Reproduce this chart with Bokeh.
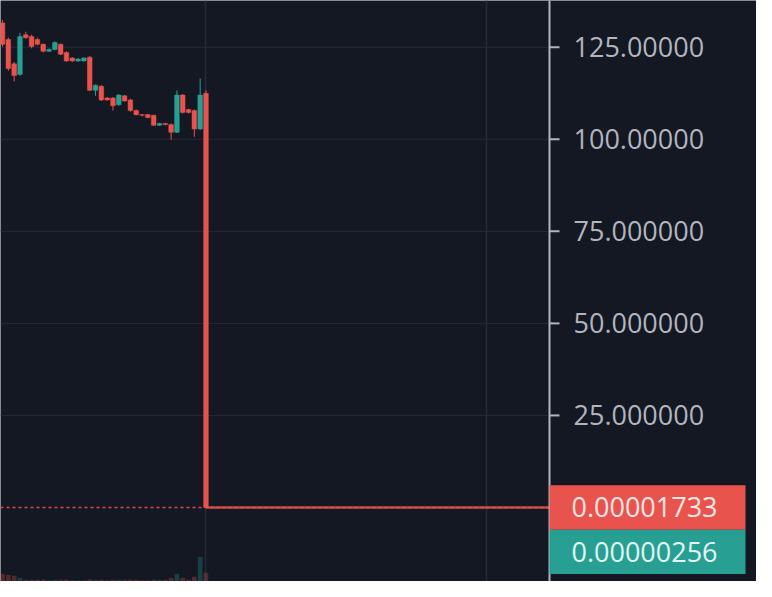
from bokeh.plotting import figure
from bokeh.models import ColumnDataSource, FixedTicker, Range1d
from bokeh.core.properties import value
from bokeh.embed import file_html
from bokeh.resources import INLINE

# ---------------- data ----------------
idx = list(range(36))
opens = [131.6, 127.1, 120.5, 117.6, 128.4, 127.9, 127.1, 125.8, 123.9, 124.4,
         125.8, 123.6, 122.1, 121.3, 121.3, 122.3, 113.3, 114.4, 111.2, 111.2,
         109.4, 111.8, 110.7, 107.8, 106.7, 106.7, 106.5, 103.8, 104.3, 104.0,
         101.9, 112.0, 108.1, 107.8, 102.8, 112.5]
closes = [125.8, 119.2, 117.3, 127.9, 127.6, 125.2, 125.8, 123.9, 124.4, 126.3,
          123.1, 121.3, 121.3, 121.8, 122.1, 113.3, 114.7, 110.7, 110.7, 109.1,
          112.0, 110.4, 107.8, 106.7, 106.5, 105.9, 103.8, 104.3, 104.0, 101.9,
          112.0, 107.3, 107.3, 102.8, 112.0, 0.00001733]
highs = [132.4, 127.6, 121.0, 128.9, 129.2, 128.4, 127.6, 126.0, 124.7, 126.6,
         126.0, 123.9, 122.3, 122.1, 122.3, 122.6, 114.9, 114.7, 111.5, 111.5,
         112.3, 112.0, 111.0, 108.1, 106.9, 106.9, 106.7, 104.5, 104.5, 104.3,
         113.3, 112.3, 108.3, 108.1, 116.5, 113.3]
lows = [125.2, 118.6, 115.7, 117.3, 127.3, 124.7, 125.5, 123.6, 123.7, 124.2,
        122.9, 121.0, 121.0, 121.0, 121.1, 113.1, 111.8, 110.4, 110.5, 107.8,
        109.1, 110.2, 107.5, 106.5, 106.2, 105.7, 103.6, 103.6, 103.8, 99.9,
        101.7, 107.0, 107.0, 100.7, 102.5, 0.00000256]
volumes = [1.3, 1.1, 1.0, 0.6, 0.3, 0.3, 0.3, 0.3, 0.2, 0.3,
           0.3, 0.3, 0.2, 0.2, 0.2, 0.4, 0.3, 0.3, 0.2, 0.3,
           0.3, 0.3, 0.3, 0.3, 0.2, 0.2, 0.3, 0.3, 0.3, 0.6,
           1.3, 0.6, 0.3, 0.8, 4.2, 1.5]
last_price = 0.00001733
tick_values = [25, 50, 75, 100, 125]
tick_labels = ["25.000000", "50.000000", "75.000000", "100.00000", "125.00000"]
tag_labels = ["0.00001733", "0.00000256"]
vgrid_at = [35, 83.3]

# ---------------- layout / style ----------------
W, H = 756, 581
AXIS_PX = 549            # where the price scale starts (px from left)
X0, X_AT_AXIS = -0.35, 94.1
Y0, Y1 = -20.1, 137.7
k = (X_AT_AXIS - X0) / AXIS_PX          # data units per px (x)
ppu = H / (Y1 - Y0)                     # px per data unit (y)
axis_x = X_AT_AXIS
x_end = X0 + W * k

BG = "#141823"
GRID = "#252a36"
RED = "#e8534e"
TEAL = "#27a093"
TXT = "#b2b5be"
FONT = "Open Sans"

colors = [TEAL if c >= o else RED for o, c in zip(opens, closes)]
src = ColumnDataSource(dict(
    x=idx, open=opens, close=closes, high=highs, low=lows,
    top=[max(o, c) for o, c in zip(opens, closes)],
    bottom=[min(o, c) for o, c in zip(opens, closes)],
    volume=volumes, color=colors))

p = figure(width=W, height=H, output_backend="svg", toolbar_location=None,
           x_range=Range1d(X0, x_end), y_range=Range1d(Y0, Y1),
           x_axis_location=None, y_axis_location=None,
           min_border=0, background_fill_color=BG, border_fill_color=BG,
           outline_line_color=None)
p.extra_y_ranges = {"vol": Range1d(0, 100)}

# grids (stop at the price scale)
p.xgrid.ticker = FixedTicker(ticks=vgrid_at)
p.xgrid.grid_line_color = GRID
p.xgrid.grid_line_width = 1.5
p.ygrid.visible = False
p.segment(x0=[X0] * len(tick_values), x1=[axis_x] * len(tick_values),
          y0=tick_values, y1=tick_values, line_color=GRID, line_width=1)

# volume
p.vbar(x="x", top="volume", bottom=0, width=0.8, y_range_name="vol",
       fill_color="color", line_color=None, fill_alpha=0.3, source=src)

# dotted price line and flat post-crash prices
p.segment(x0=[X0], x1=[axis_x], y0=[last_price], y1=[last_price],
          line_color=RED, line_dash="3 3", line_width=1.5, line_alpha=0.9)
p.segment(x0=[idx[-1]], x1=[axis_x], y0=[last_price], y1=[last_price],
          line_color=RED, line_width=2.5, line_alpha=0.85)

# candles
p.segment(x0="x", y0="low", x1="x", y1="high", line_color="color",
          line_width=1, source=src)
p.vbar(x="x", width=0.8, top="top", bottom="bottom", fill_color="color",
       line_color="color", line_width=0.5, source=src)

# ---------------- price scale (right) ----------------
p.segment(x0=[axis_x], x1=[axis_x], y0=[Y0], y1=[Y1], line_color=TXT, line_width=2)
p.segment(x0=[axis_x] * len(tick_values), x1=[axis_x + 10 * k] * len(tick_values),
          y0=tick_values, y1=tick_values, line_color=TXT, line_width=2)
p.text(x=[axis_x + 24 * k] * len(tick_values), y=tick_values, text=tick_labels,
       text_font=value(FONT), text_font_size="27px", text_color=TXT,
       text_align="left", text_baseline="middle")

# price tags
half = 22.2 / ppu
tag_y = [last_price, last_price - 2 * half]
p.quad(left=[axis_x] * 2, right=[axis_x + 196 * k] * 2,
       top=[y + half for y in tag_y], bottom=[y - half for y in tag_y],
       fill_color=[RED, TEAL], line_color=None)
p.text(x=[axis_x + 22 * k] * 2, y=tag_y, text=tag_labels,
       text_font=value(FONT), text_font_size="27px",
       text_color=["#fde6e3", "#e2f5f2"], text_align="left",
       text_baseline="middle")

open("out.html", "w").write(file_html(p, INLINE))
